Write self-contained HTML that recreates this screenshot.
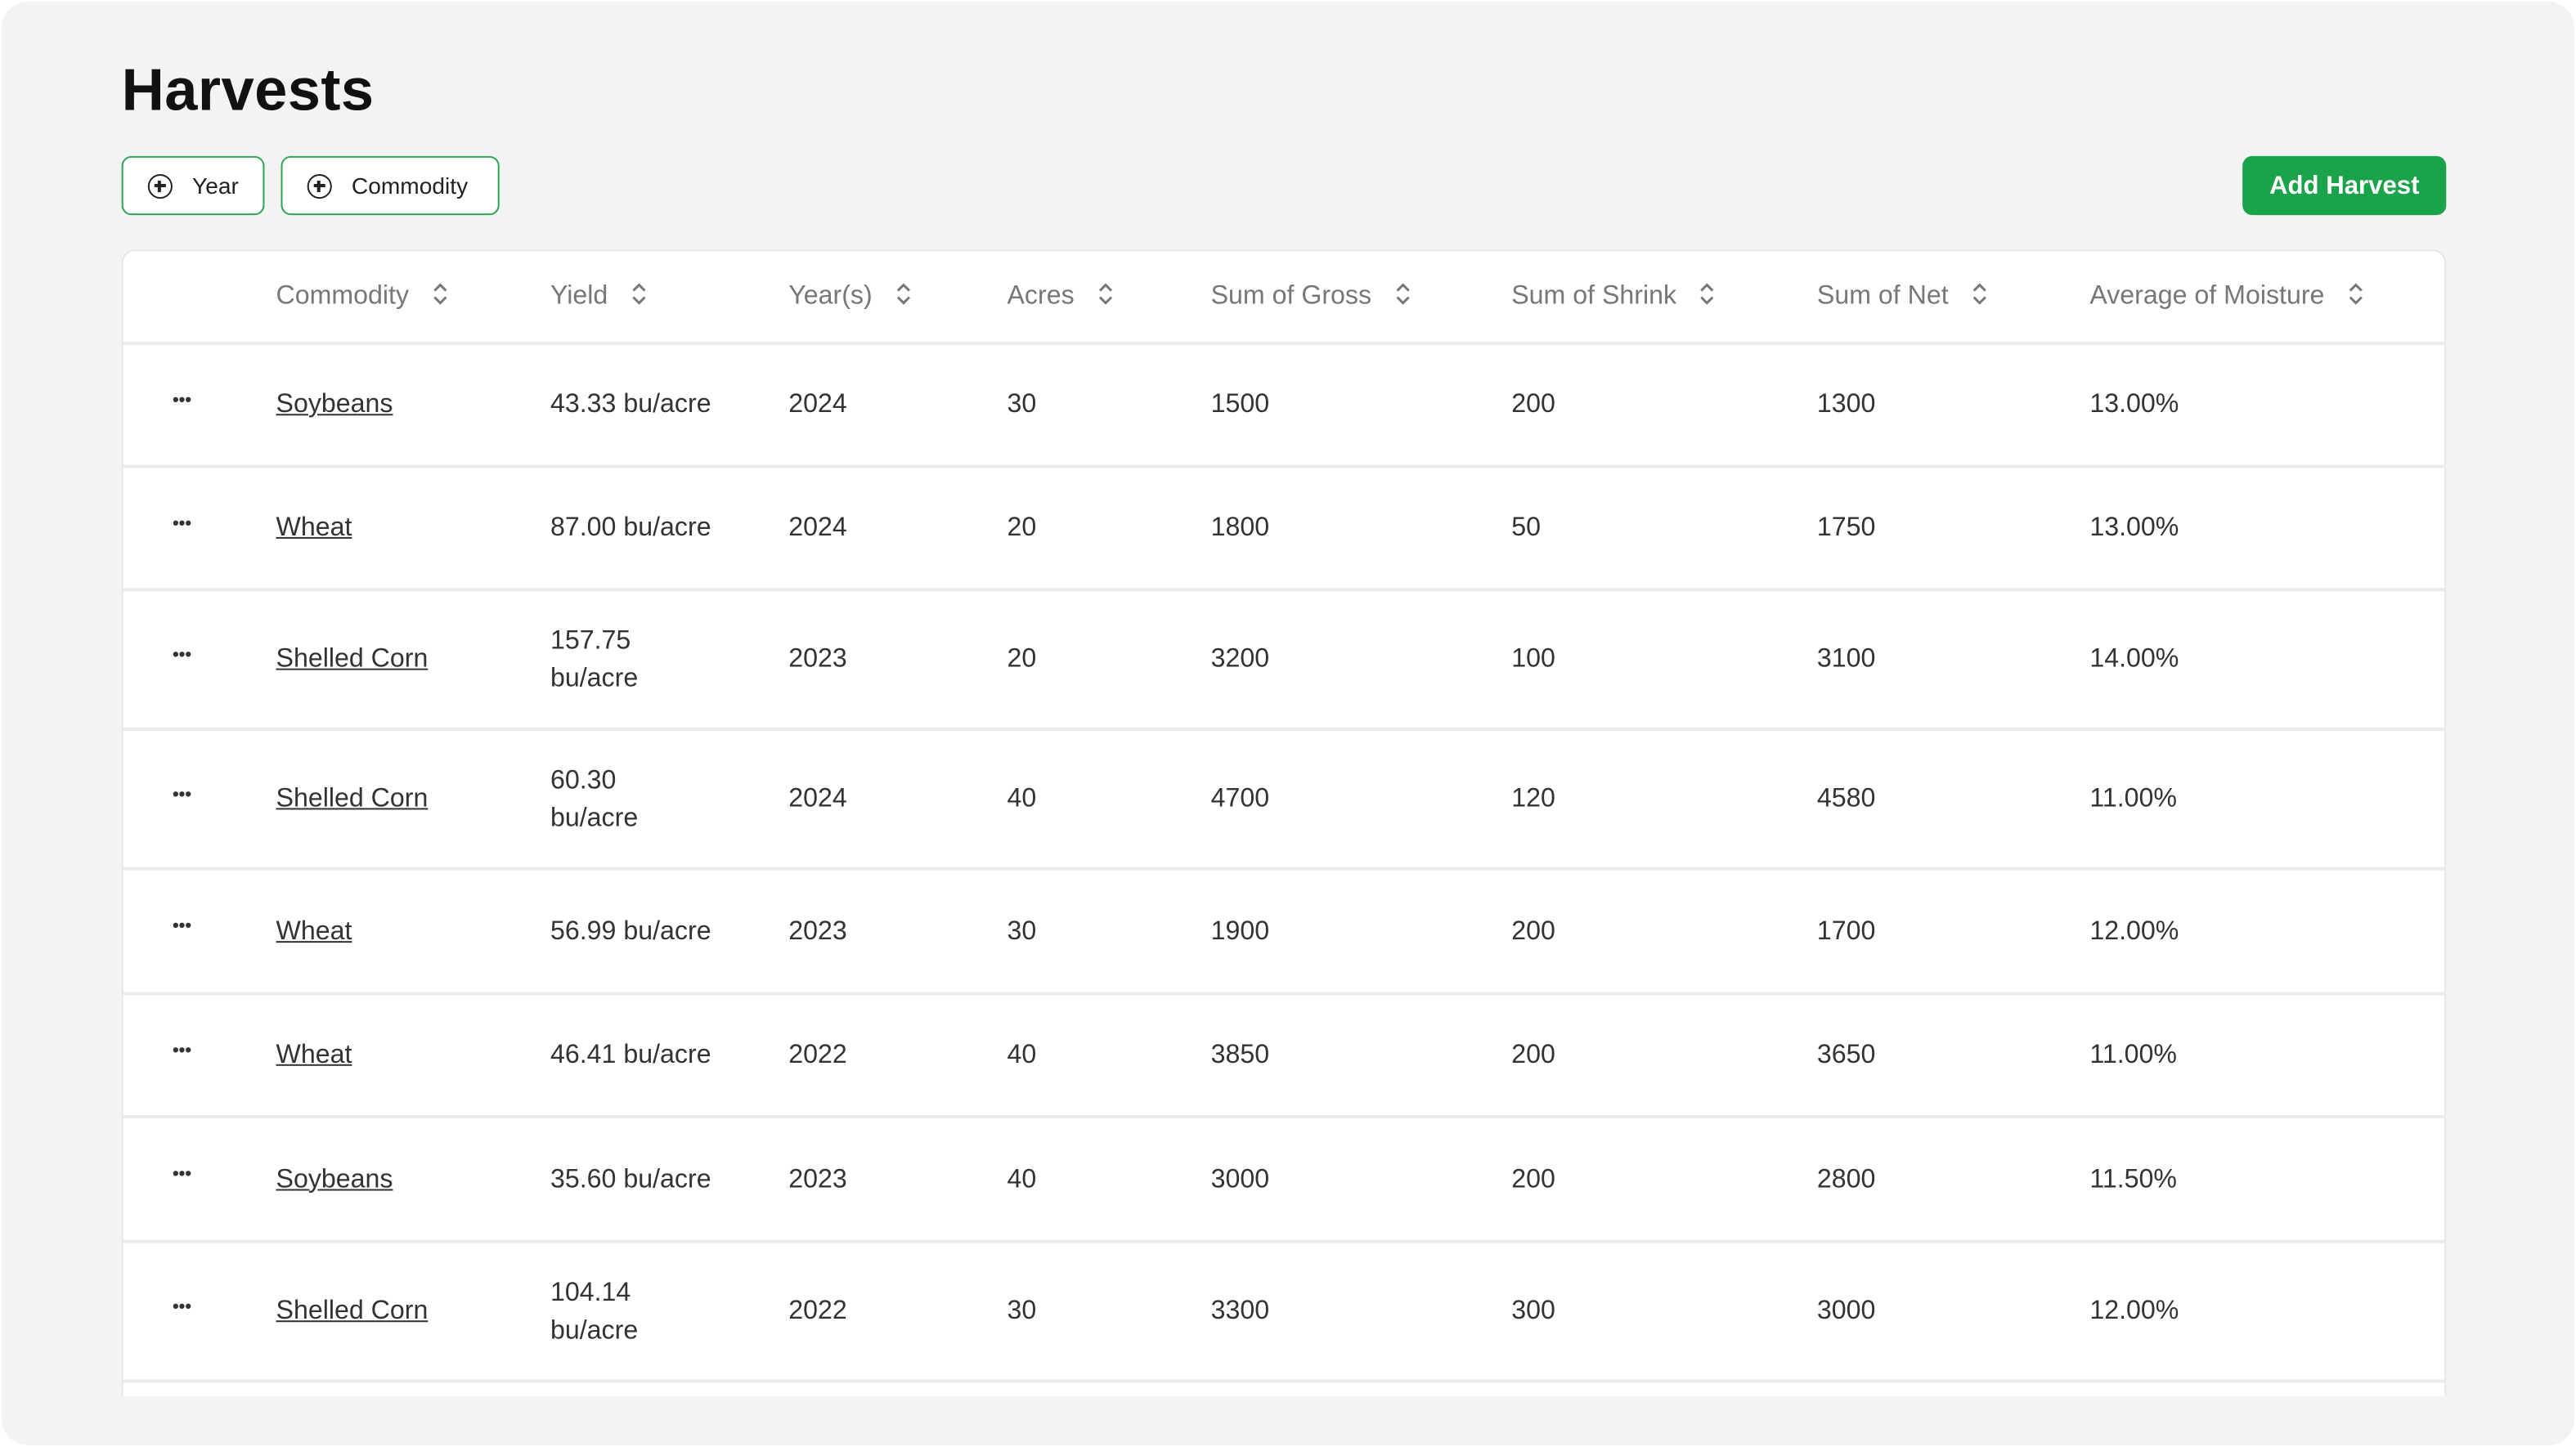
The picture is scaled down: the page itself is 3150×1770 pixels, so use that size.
<!DOCTYPE html>
<html><head><meta charset="utf-8"><style>
html,body{margin:0;padding:0;background:#fff;}
body{width:3150px;height:1770px;overflow:hidden;position:relative;}
#s{position:absolute;left:0;top:0;width:1568px;height:881px;transform:scale(2.00893);transform-origin:0 0;font-family:"Liberation Sans",sans-serif;}
.bg{position:absolute;left:1px;top:1px;width:1566px;height:879px;background:#f3f3f3;border-radius:16px;}
h1{position:absolute;left:74px;top:34px;margin:0;font-size:36px;font-weight:bold;color:#111;letter-spacing:0.2px;}
.btn{position:absolute;top:95px;height:36px;border:1.5px solid #2fa656;border-radius:6px;background:#fff;font-size:14px;color:#222;box-sizing:border-box;}
.btn span.c{position:absolute;left:15px;top:10px;width:15px;height:15px;border:1.6px solid #222;border-radius:50%;box-sizing:border-box;}
.btn span.c:before{content:"";position:absolute;left:5.2px;top:2.5px;width:1.5px;height:7px;background:#222;}
.btn span.c:after{content:"";position:absolute;left:2.5px;top:5.2px;width:7px;height:1.5px;background:#222;}
.btn span.t{position:absolute;left:42px;top:9px;}
.add{position:absolute;left:1365px;top:95px;width:124px;height:36px;background:#1aa34a;border-radius:6px;color:#fff;font-size:15.5px;font-weight:bold;text-align:center;line-height:37px;}
.card{position:absolute;left:74px;top:152px;width:1415px;height:698px;background:#fff;border:1px solid #e6e6e6;border-bottom:none;border-radius:8px 8px 0 0;overflow:hidden;box-sizing:border-box;}
.line{position:absolute;left:0;width:1415px;height:2px;background:#ebebeb;}
.tx{position:absolute;font-size:16px;color:#333;white-space:nowrap;line-height:23px;}
.hd{color:#777;}
.u{text-decoration:underline;color:#333;}
.sort{display:inline-block;vertical-align:middle;margin-left:14px;width:10px;height:16px;position:relative;top:-2px;}
.dots{position:absolute;font-size:11px;font-weight:bold;color:#333;letter-spacing:0px;}
</style></head><body><div id="s">
<div class="bg"></div>
<h1>Harvests</h1>
<div class="btn" style="left:74px;width:87px;"><span class="c"></span><span class="t">Year</span></div>
<div class="btn" style="left:171px;width:133px;"><span class="c"></span><span class="t">Commodity</span></div>
<div class="add">Add Harvest</div>
<div class="card" id="card"></div>
</div>
<script>
var svg='<svg class="sort" viewBox="0 0 10 16"><path d="M1.5 6 L5 2.5 L8.5 6 M1.5 10 L5 13.5 L8.5 10" fill="none" stroke="#777" stroke-width="1.5"/></svg>';
var cols=[93,260,405,538,662,845,1031,1197];
var hd=["Commodity","Yield","Year(s)","Acres","Sum of Gross","Sum of Shrink","Sum of Net","Average of Moisture"];
var h='';
hd.forEach(function(t,i){h+='<div class="tx hd" style="left:'+cols[i]+'px;top:16px">'+t+svg+'</div>';});
var b=[56,131,206,291,376,452,527,603,688];
var rows=[["Soybeans","43.33 bu/acre","2024","30","1500","200","1300","13.00%"],
["Wheat","87.00 bu/acre","2024","20","1800","50","1750","13.00%"],
["Shelled Corn","157.75<br>bu/acre","2023","20","3200","100","3100","14.00%"],
["Shelled Corn","60.30<br>bu/acre","2024","40","4700","120","4580","11.00%"],
["Wheat","56.99 bu/acre","2023","30","1900","200","1700","12.00%"],
["Wheat","46.41 bu/acre","2022","40","3850","200","3650","11.00%"],
["Soybeans","35.60 bu/acre","2023","40","3000","200","2800","11.50%"],
["Shelled Corn","104.14<br>bu/acre","2022","30","3300","300","3000","12.00%"]];
for(var k=0;k<b.length;k++)h+='<div class="line" style="top:'+(b[k]-1)+'px"></div>';
rows.forEach(function(r,i){var c=(b[i]+b[i+1])/2;
h+='<div class="dots" style="left:30px;top:'+(c-9)+'px">•••</div>';
r.forEach(function(t,j){var two=t.indexOf('<br>')>=0;
h+='<div class="tx" style="left:'+cols[j]+'px;top:'+(c-(two?23:11.5))+'px">'+(j==0?'<span class="u">'+t+'</span>':t)+'</div>';});});
document.getElementById('card').innerHTML=h;
</script>
</body></html>
